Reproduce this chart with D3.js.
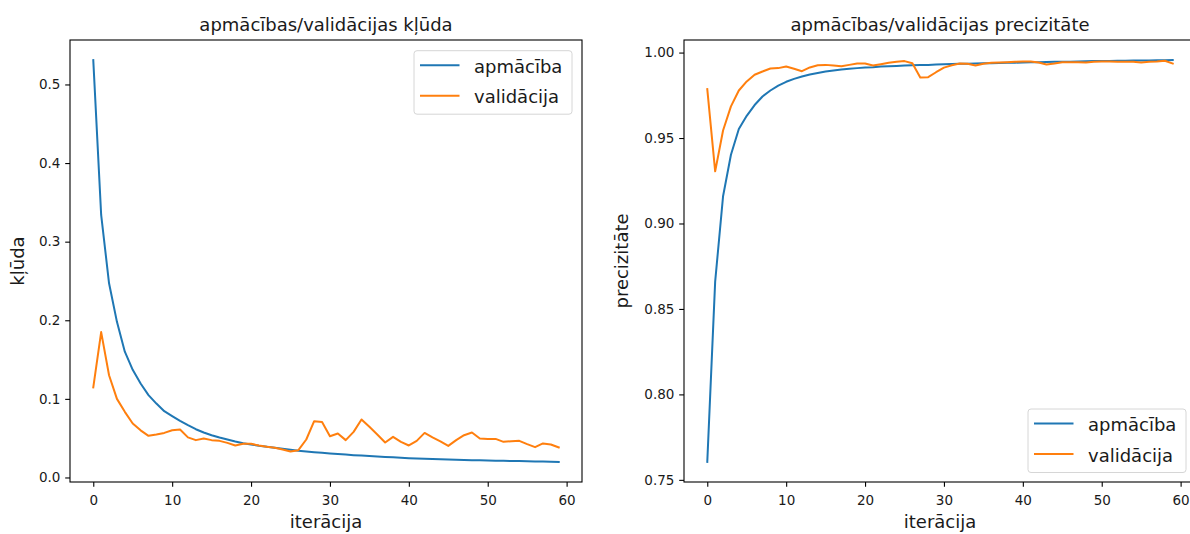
<!DOCTYPE html>
<html>
<head>
<meta charset="utf-8">
<script src="https://cdn.jsdelivr.net/npm/d3@7"></script>
<style>
  body { margin: 0; background: #fff; }
  svg { display: block; font-family: "DejaVu Sans", sans-serif; }
  .tick text { fill: #1a1a1a; }
</style>
</head>
<body>
<div id="chart"></div>
<script>
const epochs = d3.range(60);
const xTicks = [0, 10, 20, 30, 40, 50, 60];
const lossTicks = [0, 0.1, 0.2, 0.3, 0.4, 0.5];
const accTicks = [0.75, 0.8, 0.85, 0.9, 0.95, 1.0];
const seriesNames = ["apmācība", "validācija"];
const colors = ["#1f77b4", "#ff7f0e"];

const trainLoss = [
  0.531, 0.334, 0.247, 0.198, 0.160, 0.137, 0.1195, 0.1047, 0.094, 0.0843,
  0.078, 0.072, 0.0665, 0.0614, 0.0572, 0.0538, 0.0509, 0.0483, 0.0458, 0.0436,
  0.042, 0.0403, 0.039, 0.0377, 0.0364, 0.0352, 0.0339, 0.033, 0.0322, 0.0313,
  0.0305, 0.0298, 0.0291, 0.0284, 0.0278, 0.0272, 0.0266, 0.0261, 0.0256, 0.0251,
  0.0246, 0.0242, 0.0238, 0.0234, 0.0231, 0.0228, 0.0225, 0.0222, 0.022, 0.0218,
  0.0216, 0.0214, 0.0212, 0.021, 0.0208, 0.0206, 0.0204, 0.0202, 0.02, 0.0198
];
const valLoss = [
  0.1145, 0.185, 0.130, 0.100, 0.0835, 0.0687, 0.060, 0.053, 0.0547, 0.0567,
  0.060, 0.061, 0.051, 0.0475, 0.0496, 0.0475, 0.0466, 0.044, 0.0407, 0.0428,
  0.0428, 0.0407, 0.039, 0.0377, 0.0356, 0.033, 0.0347, 0.0483, 0.0716, 0.0705,
  0.0525, 0.056, 0.0475, 0.058, 0.0738, 0.0644, 0.0547, 0.0445, 0.0517, 0.0453,
  0.0407, 0.0466, 0.0567, 0.051, 0.0458, 0.0402, 0.0475, 0.0538, 0.0572, 0.0496,
  0.0491, 0.0491, 0.0453, 0.0462, 0.0466, 0.0424, 0.0386, 0.0433, 0.042, 0.0382
];
const trainAcc = [
  0.7605, 0.866, 0.9159, 0.9402, 0.9553, 0.963, 0.9693, 0.9743, 0.9778, 0.9807,
  0.9829, 0.9846, 0.986, 0.9872, 0.9881, 0.9889, 0.9895, 0.9901, 0.9905, 0.9909,
  0.9912, 0.9914, 0.9918, 0.992, 0.9922, 0.9924, 0.9926, 0.9928, 0.9928, 0.993,
  0.9932, 0.9933, 0.9934, 0.9935, 0.9936, 0.9937, 0.9938, 0.9939, 0.994, 0.9941,
  0.9942, 0.9943, 0.9944, 0.9945, 0.9946, 0.9947, 0.9947, 0.9948, 0.9949, 0.995,
  0.995, 0.9951, 0.9952, 0.9952, 0.9953, 0.9954, 0.9954, 0.9955, 0.9955, 0.9956
];
const valAcc = [
  0.9786, 0.9305, 0.9544, 0.9685, 0.9778, 0.9831, 0.987, 0.9889, 0.9907, 0.9909,
  0.9918, 0.9905, 0.9891, 0.9913, 0.9926, 0.9928, 0.9924, 0.992, 0.9928, 0.9936,
  0.9936, 0.9924, 0.9932, 0.994, 0.9946, 0.995, 0.9938, 0.9854, 0.9856, 0.9885,
  0.9912, 0.9926, 0.9936, 0.9934, 0.9924, 0.9934, 0.994, 0.9942, 0.9944, 0.9946,
  0.9948, 0.9948, 0.9942, 0.993, 0.9936, 0.9944, 0.9944, 0.9944, 0.9942, 0.9946,
  0.9948, 0.9948, 0.9946, 0.9946, 0.9946, 0.9942, 0.9946, 0.9948, 0.9952, 0.9936
];

const width = 1190;
const height = 534;
const plotTop = 40;
const plotBottom = 482;
const fontFamily = "'DejaVu Sans', sans-serif";

const svg = d3
  .select("#chart")
  .append("svg")
  .attr("width", width)
  .attr("height", height);

// matplotlib-like 5% margins
const padded = (lo, hi) => {
  const m = (hi - lo) * 0.05;
  return [lo - m, hi + m];
};

const drawPanel = ({ left, right, series, yTicks, yFormat, title, yLabel, yLabelX, legendPos }) => {
  const x = d3.scaleLinear().domain(padded(0, 59)).range([left, right]);
  const all = series.flat();
  const y = d3.scaleLinear().domain(padded(d3.min(all), d3.max(all))).range([plotBottom, plotTop]);

  const g = svg.append("g");

  const line = d3
    .line()
    .x((d, i) => x(epochs[i]))
    .y((d) => y(d));

  series.forEach((values, k) => {
    g.append("path")
      .datum(values)
      .attr("fill", "none")
      .attr("stroke", colors[k])
      .attr("stroke-width", 2)
      .attr("stroke-linejoin", "round")
      .attr("stroke-linecap", "square")
      .attr("d", line);
  });

  // spines
  g.append("rect")
    .attr("x", left)
    .attr("y", plotTop)
    .attr("width", right - left)
    .attr("height", plotBottom - plotTop)
    .attr("fill", "none")
    .attr("stroke", "#000")
    .attr("stroke-width", 1.1);

  const xAxis = g
    .append("g")
    .attr("transform", `translate(0,${plotBottom})`)
    .call(d3.axisBottom(x).tickValues(xTicks).tickFormat(d3.format("d")).tickSize(4.8).tickPadding(4.8));
  xAxis.select(".domain").remove();
  xAxis.attr("font-family", fontFamily).attr("font-size", 13.5);
  xAxis.selectAll("text").attr("y", 23).attr("dy", 0);

  const yAxis = g
    .append("g")
    .attr("transform", `translate(${left},0)`)
    .call(d3.axisLeft(y).tickValues(yTicks).tickFormat(d3.format(yFormat)).tickSize(4.8).tickPadding(4.8));
  yAxis.select(".domain").remove();
  yAxis.attr("font-family", fontFamily).attr("font-size", 13.5);
  g.selectAll(".tick line").attr("stroke", "#000").attr("stroke-width", 1.1);

  g.append("text")
    .attr("x", (left + right) / 2)
    .attr("y", 31)
    .attr("text-anchor", "middle")
    .style("font-size", "18px")
    .attr("fill", "#1a1a1a")
    .text(title);

  g.append("text")
    .attr("x", (left + right) / 2)
    .attr("y", 528)
    .attr("text-anchor", "middle")
    .style("font-size", "18px")
    .attr("fill", "#1a1a1a")
    .text("iterācija");

  g.append("text")
    .attr("transform", `translate(${yLabelX},${(plotTop + plotBottom) / 2}) rotate(-90)`)
    .attr("text-anchor", "middle")
    .style("font-size", "18px")
    .attr("fill", "#1a1a1a")
    .text(yLabel);

  // legend
  const lg = g.append("g").attr("transform", `translate(${legendPos[0]},${legendPos[1]})`);
  lg.append("rect")
    .attr("width", 158)
    .attr("height", 63.5)
    .attr("rx", 3)
    .attr("fill", "#fff")
    .attr("fill-opacity", 0.8)
    .attr("stroke", "#d6d6d6")
    .attr("stroke-width", 1);
  seriesNames.forEach((name, k) => {
    const row = lg.append("g").attr("transform", `translate(0,${14.6 + k * 30.5})`);
    row.append("line")
      .attr("x1", 6)
      .attr("x2", 45.5)
      .attr("stroke", colors[k])
      .attr("stroke-width", 2);
    row.append("text")
      .attr("x", 60)
      .attr("y", 7.4)
      .style("font-size", "18px")
      .attr("fill", "#1a1a1a")
      .text(name);
  });
};

drawPanel({
  left: 70,
  right: 582,
  series: [trainLoss, valLoss],
  yTicks: lossTicks,
  yFormat: ".1f",
  title: "apmācības/validācijas kļūda",
  yLabel: "kļūda",
  yLabelX: 24,
  legendPos: [414, 50.7],
});

drawPanel({
  left: 684,
  right: 1196,
  series: [trainAcc, valAcc],
  yTicks: accTicks,
  yFormat: ".2f",
  title: "apmācības/validācijas precizitāte",
  yLabel: "precizitāte",
  yLabelX: 628,
  legendPos: [1028, 409],
});
</script>
</body>
</html>
